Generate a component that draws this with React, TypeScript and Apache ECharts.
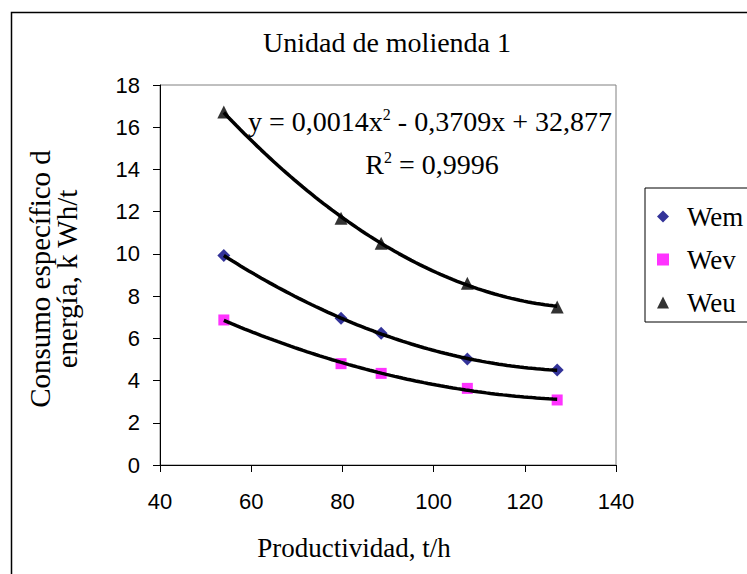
import React, { useEffect, useRef } from "react";
import * as echarts from "echarts";

const productivity = [54, 79.7, 88.5, 107.4, 127.1];
const wemValues = [9.92, 6.95, 6.24, 5.02, 4.5];
const wevValues = [6.87, 4.8, 4.34, 3.63, 3.08];
const weuValues = [16.72, 11.69, 10.5, 8.61, 7.48];
const seriesNames = ["Wem", "Wev", "Weu"];
const chartTitle = "Unidad de molienda 1";
const xTitle = "Productividad, t/h";
const yTitle = "Consumo específico d\nenergía, k Wh/t";
const equationText = "{a|y = 0,0014x}{s|2}{a| - 0,3709x + 32,877}";
const r2Text = "{a|R}{s|2}{a| = 0,9996}";

function quadFit(xs: number[], ys: number[]) {
  // least squares y = a x^2 + b x + c
  let s0 = 0, s1 = 0, s2 = 0, s3 = 0, s4 = 0, t0 = 0, t1 = 0, t2 = 0;
  for (let i = 0; i < xs.length; i++) {
    const x = xs[i], y = ys[i];
    s0 += 1; s1 += x; s2 += x * x; s3 += x * x * x; s4 += x * x * x * x;
    t0 += y; t1 += x * y; t2 += x * x * y;
  }
  const M = [
    [s4, s3, s2, t2],
    [s3, s2, s1, t1],
    [s2, s1, s0, t0],
  ];
  for (let i = 0; i < 3; i++) {
    for (let k = i + 1; k < 3; k++) {
      const f = M[k][i] / M[i][i];
      for (let j = i; j < 4; j++) M[k][j] -= f * M[i][j];
    }
  }
  const r = [0, 0, 0];
  for (let i = 2; i >= 0; i--) {
    let s = M[i][3];
    for (let j = i + 1; j < 3; j++) s -= M[i][j] * r[j];
    r[i] = s / M[i][i];
  }
  const [a, b, c] = r;
  const lo = Math.min(...xs), hi = Math.max(...xs);
  const pts: number[][] = [];
  const n = 80;
  for (let i = 0; i <= n; i++) {
    const x = lo + ((hi - lo) * i) / n;
    pts.push([x, a * x * x + b * x + c]);
  }
  return pts;
}

export default function App() {
  const ref = useRef<HTMLDivElement>(null);
  useEffect(() => {
    document.body.style.margin = "0";
    if (!ref.current) return;
    const chart = echarts.init(ref.current, null, { renderer: "svg" });
    const serif = "Liberation Serif";
    const sans = "Liberation Sans";
    const pair = (ys: number[]) => productivity.map((x, i) => [x, ys[i]]);
    const trend = (ys: number[]) => ({
      type: "line",
      data: quadFit(productivity, ys),
      showSymbol: false,
      symbol: "none",
      smooth: false,
      lineStyle: { color: "#000", width: 3.5 },
      z: 5,
      silent: true,
    });
    chart.setOption({
      animation: false,
      backgroundColor: "#fff",
      grid: {
        left: 160,
        top: 85,
        right: 131,
        bottom: 109,
        show: true,
        borderColor: "#808080",
        borderWidth: 1,
      },
      legend: {
        orient: "vertical",
        left: 645,
        top: 188,
        padding: [15, 24, 6, 12],
        itemWidth: 12,
        itemHeight: 12,
        itemGap: 16,
        borderColor: "#000",
        borderWidth: 1,
        data: seriesNames,
        formatter: "{t|{name}}",
        textStyle: {
          fontFamily: serif,
          fontSize: 27,
          color: "#000",
          rich: { t: { fontFamily: serif, fontSize: 27, color: "#000", padding: [0, 0, 0, 13] } },
        },
      },
      xAxis: {
        type: "value",
        min: 40,
        max: 140,
        interval: 20,
        axisLine: { show: true, lineStyle: { color: "#000", width: 1 } },
        axisTick: { show: true, length: 7, inside: false, lineStyle: { color: "#000" } },
        splitLine: { show: false },
        axisLabel: { fontFamily: sans, fontSize: 22, color: "#000", margin: 25 },
      },
      yAxis: {
        type: "value",
        min: 0,
        max: 18,
        interval: 2,
        axisLine: { show: true, lineStyle: { color: "#000", width: 1 } },
        axisTick: { show: true, length: 7, inside: false, lineStyle: { color: "#000" } },
        splitLine: { show: false },
        axisLabel: { fontFamily: sans, fontSize: 22, color: "#000", margin: 20 },
      },
      graphic: [
        {
          type: "rect",
          shape: { x: 11.5, y: 12.5, width: 800, height: 700 },
          style: { fill: "none", stroke: "#000", lineWidth: 1.5 },
          z: -1,
          silent: true,
        },
        {
          type: "text",
          x: 387,
          y: 42,
          style: {
            text: chartTitle,
            font: `28px "${serif}"`,
            fill: "#000",
            textAlign: "center",
            textVerticalAlign: "middle",
          },
        },
        {
          type: "text",
          x: 354,
          y: 548,
          style: {
            text: xTitle,
            font: `27px "${serif}"`,
            fill: "#000",
            textAlign: "center",
            textVerticalAlign: "middle",
          },
        },
        {
          type: "text",
          x: 53,
          y: 279,
          rotation: Math.PI / 2,
          style: {
            text: yTitle,
            font: `29px "${serif}"`,
            lineHeight: 27,
            fill: "#000",
            textAlign: "center",
            textVerticalAlign: "middle",
          },
        },
        {
          type: "text",
          x: 430,
          y: 121,
          z: 10,
          style: {
            text: equationText,
            textAlign: "center",
            textVerticalAlign: "middle",
            fill: "#000",
            rich: {
              a: { fontFamily: serif, fontSize: 28, color: "#000", lineHeight: 30 },
              s: { fontFamily: serif, fontSize: 16, color: "#000", verticalAlign: "top", lineHeight: 30 },
            },
          },
        },
        {
          type: "text",
          x: 432,
          y: 164,
          z: 10,
          style: {
            text: r2Text,
            textAlign: "center",
            textVerticalAlign: "middle",
            fill: "#000",
            rich: {
              a: { fontFamily: serif, fontSize: 28, color: "#000", lineHeight: 30 },
              s: { fontFamily: serif, fontSize: 16, color: "#000", verticalAlign: "top", lineHeight: 30 },
            },
          },
        },
      ],
      series: [
        {
          name: seriesNames[0],
          type: "scatter",
          data: pair(wemValues),
          symbol: "diamond",
          symbolSize: 13,
          itemStyle: { color: "#000080" },
          z: 3,
        },
        {
          name: seriesNames[1],
          type: "scatter",
          data: pair(wevValues),
          symbol: "rect",
          symbolSize: 11,
          itemStyle: { color: "#FF00FF" },
          z: 3,
        },
        {
          name: seriesNames[2],
          type: "scatter",
          data: pair(weuValues),
          symbol: "triangle",
          symbolSize: 13,
          itemStyle: { color: "#000" },
          z: 3,
        },
        trend(wemValues),
        trend(wevValues),
        trend(weuValues),
      ],
    });
    return () => chart.dispose();
  }, []);
  return <div ref={ref} style={{ width: 747, height: 574 }} />;
}
